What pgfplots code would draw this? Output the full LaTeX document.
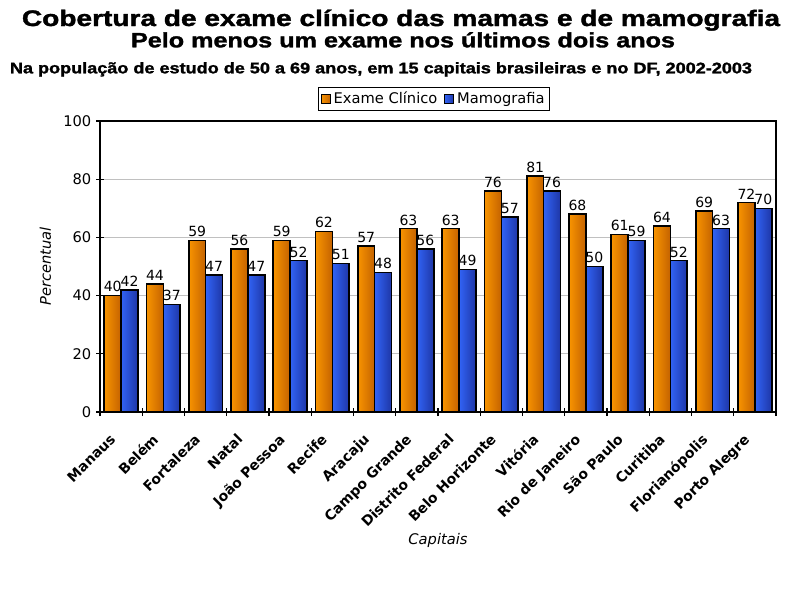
\documentclass[border=0pt]{standalone}
\usepackage{fontspec}
\setmainfont{DejaVu Sans}
\newfontfamily\titlefont{Liberation Sans}[BoldFeatures={FakeBold=1.5}]
\usepackage{pgfplots}
\pgfplotsset{compat=1.18}
\usepackage{pgfplotstable}

\definecolor{orL}{HTML}{F89400}
\definecolor{orM}{HTML}{FFA620}
\definecolor{orR}{HTML}{C46200}
\definecolor{blL}{HTML}{3163F5}
\definecolor{blM}{HTML}{3F6FFF}
\definecolor{blR}{HTML}{1E36A6}
\definecolor{gridgray}{HTML}{C0C0C0}

\pgfplotstableread{
x y lab
0 40 40
1 44 44
2 59 59
3 56 56
4 59 59
5 62 62
6 57 57
7 63 63
8 63 63
9 76 76
10 81 81
11 68 68
12 61 61
13 64 64
14 69 69
15 72 72
}\clinico

\pgfplotstableread{
x y lab
0 42 42
1 37 37
2 47 47
3 47 47
4 52 52
5 51 51
6 48 48
7 56 56
8 49 49
9 67 57
10 76 76
11 50 50
12 59 59
13 52 52
14 63 63
15 70 70
}\mamo

\begin{document}
\begin{tikzpicture}
\useasboundingbox[fill=white] (0pt,0pt) rectangle (600pt,-450pt);
% titles
\node[anchor=base, inner sep=0pt] at (300.75pt,-19.5pt)
  {\scalebox{1}[0.8]{\resizebox{568.5pt}{!}{\titlefont\bfseries Cobertura de exame clínico das mamas e de mamografia}}};
\node[anchor=base, inner sep=0pt] at (302.25pt,-35.5pt)
  {\scalebox{1}[0.82]{\resizebox{408pt}{!}{\titlefont\bfseries Pelo menos um exame nos últimos dois anos}}};
\node[anchor=base, inner sep=0pt] at (285.75pt,-55pt)
  {\scalebox{1}[0.85]{\resizebox{556.5pt}{!}{\titlefont\bfseries Na população de estudo de 50 a 69 anos, em 15 capitais brasileiras e no DF, 2002-2003}}};

\begin{axis}[
  at={(75pt,-309pt)}, anchor=south west,
  scale only axis, width=507pt, height=218.25pt,
  xmin=-0.5, xmax=15.5, ymin=0, ymax=100,
  xtick={0,...,15},
  xticklabels={Manaus,Belém,Fortaleza,Natal,João Pessoa,Recife,Aracaju,Campo Grande,Distrito Federal,Belo Horizonte,Vitória,Rio de Janeiro,São Paulo,Curitiba,Florianópolis,Porto Alegre},
  minor xtick={-0.5,0.5,...,15.5},
  major x tick style={draw=none},
  ytick={0,20,...,100},
  tick align=center,
  major tick length=6pt, minor tick length=6pt,
  xtick pos=bottom, ytick pos=left,
  ymajorgrids, grid style={gridgray, line width=0.6pt},
  axis line style={black, line width=0.8pt},
  tick style={black, line width=0.8pt},
  /pgf/number format/assume math mode=true,
  yticklabel style={font=\fontsize{11}{13}\selectfont},
  xticklabel style={font=\fontsize{10.5}{12}\selectfont\bfseries, xshift=-9pt, yshift=-11pt, rotate=45, anchor=north east, inner sep=1pt},
  xlabel={Capitais},
  xlabel style={font=\fontsize{11}{13}\selectfont\itshape, at={(axis description cs:0.5,0)}, anchor=center, yshift=-96pt},
  ylabel={Percentual},
  ylabel style={font=\fontsize{11}{13}\selectfont\itshape, at={(axis description cs:0,0.5)}, anchor=center, yshift=41pt},
  legend style={at={(axis description cs:0.494,1)}, anchor=south, yshift=7.5pt,
    legend columns=2, draw=black, line width=0.8pt, font=\fontsize{11}{13}\selectfont,
    inner sep=1.5pt, /tikz/every even column/.append style={column sep=3pt}},
  legend image code/.code={\draw[#1, line width=0.8pt] (0pt,-3.5pt) rectangle (7pt,3.5pt);},
  point meta=explicit symbolic,
  unbounded coords=discard,
  every node near coord/.append style={font=\fontsize{10.5}{12}\selectfont, anchor=south, inner sep=2pt},
]
\addlegendimage{draw=black, left color=orL, middle color=orM, right color=orR}
\addlegendentry{Exame Clínico}
\addlegendimage{draw=black, left color=blL, middle color=blM, right color=blR}
\addlegendentry{Mamografia}
\pgfplotsinvokeforeach{0,...,15}{
\addplot[ybar, bar width=0.4, bar shift=-0.2, draw=black, line width=1.2pt,
  left color=orL, middle color=orM, right color=orR, forget plot,
  x filter/.expression={abs(x-#1)<0.1 ? x : nan},
  nodes near coords, every node near coord/.append style={xshift=-6.34pt}]
  table[x=x, y=y, meta=lab] {\clinico};
\addplot[ybar, bar width=0.4, bar shift=0.2, draw=black, line width=1.2pt,
  left color=blL, middle color=blM, right color=blR, forget plot,
  x filter/.expression={abs(x-#1)<0.1 ? x : nan},
  nodes near coords, every node near coord/.append style={xshift=6.34pt}]
  table[x=x, y=y, meta=lab] {\mamo};
}
\end{axis}
\end{tikzpicture}
\end{document}
